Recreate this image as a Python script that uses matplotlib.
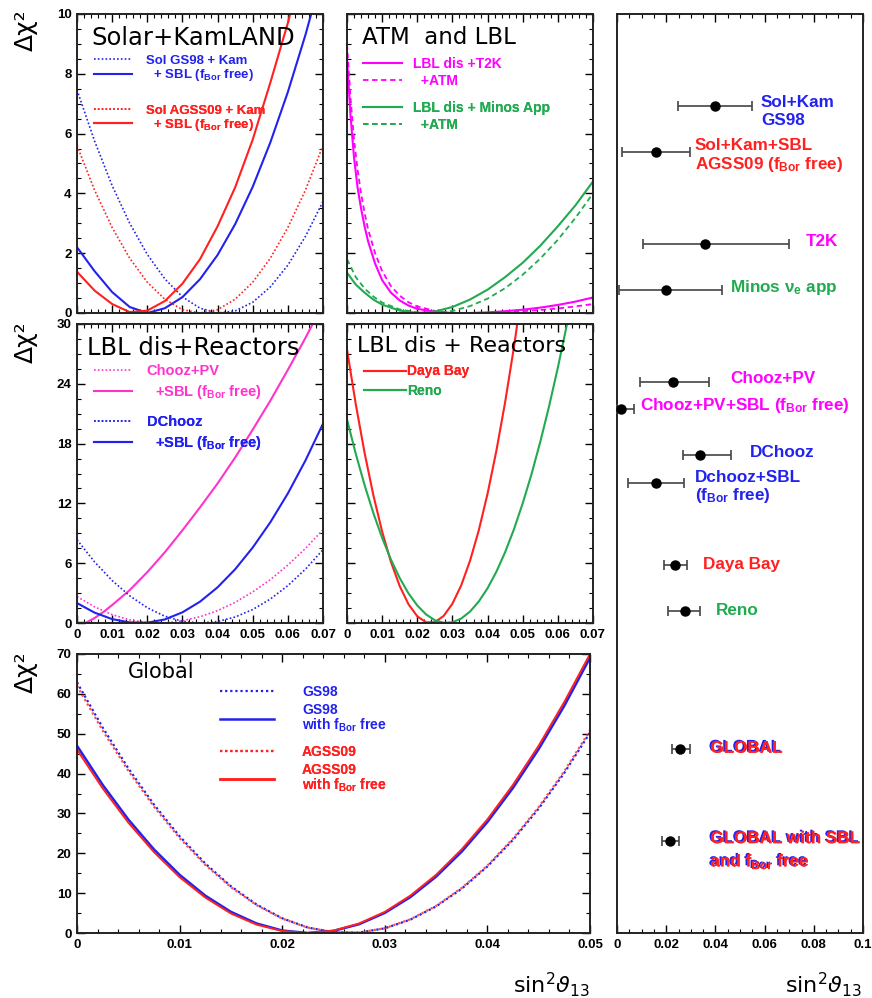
import matplotlib
matplotlib.use('Agg')
import matplotlib.pyplot as plt
from matplotlib.lines import Line2D
from matplotlib.ticker import MultipleLocator, FuncFormatter
import matplotlib.patheffects as pe

# ---------------- data ----------------
# sin^2 theta13 grids
x05 = [0, 0.005, 0.01, 0.015, 0.02, 0.025, 0.03, 0.035, 0.04, 0.045, 0.05, 0.055, 0.06, 0.065, 0.07]
xc = [0, 0.0025, 0.005, 0.0075, 0.01, 0.015, 0.02, 0.025, 0.03, 0.035, 0.04, 0.045, 0.05, 0.055, 0.06, 0.065, 0.07]
xatm = [0, 0.001, 0.002, 0.003, 0.004, 0.005, 0.006, 0.008, 0.01, 0.0125, 0.015, 0.0175, 0.02,
        0.025, 0.03, 0.035, 0.04, 0.045, 0.05, 0.055, 0.06, 0.065, 0.07]
x025 = [0, 0.0025, 0.005, 0.0075, 0.01, 0.0125, 0.015, 0.0175, 0.02, 0.0225, 0.025, 0.0275, 0.03,
        0.0325, 0.035, 0.0375, 0.04, 0.0425, 0.045, 0.0475, 0.05, 0.0525, 0.055, 0.0575, 0.06, 0.0625, 0.065]

# Solar + KamLAND
sk_gs98 = [7.46, 5.75, 4.26, 3.00, 1.96, 1.14, 0.54, 0.16, 0.00, 0.07, 0.36, 0.87, 1.60, 2.56, 3.73]
sk_gs98_sbl = [2.20, 1.40, 0.70, 0.20, 0.00, 0.16, 0.53, 1.13, 1.94, 2.97, 4.22, 5.70, 7.39, 9.30, 11.43]
sk_agss = [5.60, 4.11, 2.86, 1.83, 1.03, 0.46, 0.11, 0.00, 0.11, 0.46, 1.03, 1.83, 2.86, 4.11, 5.60]
sk_agss_sbl = [1.38, 0.75, 0.30, 0.03, 0.08, 0.40, 0.98, 1.80, 2.90, 4.20, 5.80, 7.70, 9.70, 12.0, 14.5]

# ATM and LBL
t2k = [8.5, 6.6, 5.2, 4.2, 3.5, 2.9, 2.4, 1.65, 1.1, 0.68, 0.42, 0.25, 0.14, 0.04, 0.0, 0.0,
       0.02, 0.06, 0.11, 0.18, 0.27, 0.38, 0.52]
t2k_atm = [9.0, 7.2, 5.8, 4.8, 4.0, 3.35, 2.8, 2.0, 1.4, 0.9, 0.58, 0.36, 0.22, 0.07, 0.01, 0.0,
           0.01, 0.03, 0.06, 0.10, 0.15, 0.22, 0.30]
minos = [1.35, 0.95, 0.68, 0.45, 0.28, 0.08, 0.0, 0.05, 0.2, 0.45, 0.78, 1.2, 1.68, 2.25, 2.9, 3.6, 4.4]
minos_atm = [1.8, 1.2, 0.82, 0.55, 0.35, 0.12, 0.02, 0.0, 0.07, 0.23, 0.48, 0.83, 1.28, 1.82, 2.45, 3.18, 4.0]

# LBL dis + Reactors (Chooz / Double Chooz)
chooz = [2.65, 1.62, 0.84, 0.31, 0.04, 0.02, 0.22, 0.63, 1.24, 2.07, 3.11, 4.35, 5.81, 7.48, 9.35]
chooz_sbl = [0.05, 0.02, 0.5, 1.1, 1.8, 3.3, 5.1, 7.1, 9.3, 11.6, 14.0, 16.6, 19.4, 22.3, 25.4, 28.6, 32.0]
dchooz = [8.35, 6.13, 4.26, 2.73, 1.53, 0.68, 0.17, 0.0, 0.15, 0.6, 1.35, 2.4, 3.75, 5.4, 7.35]
dchooz_sbl = [2.0, 1.04, 0.39, 0.06, 0.03, 0.36, 1.07, 2.14, 3.58, 5.39, 7.57, 10.1, 13.0, 16.3, 20.0]

# LBL dis + Reactors (Daya Bay / Reno)
dayabay = [27.44, 21.95, 17.08, 12.82, 9.17, 6.13, 3.70, 1.88, 0.67, 0.07, 0.08, 0.71, 1.94,
           3.78, 6.24, 9.30, 12.98, 17.27, 22.16, 27.67, 33.79]
reno = [20.42, 16.97, 13.84, 11.03, 8.54, 6.37, 4.51, 2.97, 1.76, 0.86, 0.28, 0.02, 0.07, 0.45,
        1.14, 2.16, 3.49, 5.14, 7.11, 9.40, 12.01, 14.93, 18.18, 21.74, 25.62, 29.82, 34.35]

# Global
glob_gs98 = [62.89, 51.55, 41.33, 32.23, 24.27, 17.44, 11.73, 7.15, 3.70, 1.37, 0.18, 0.11, 1.17,
             3.36, 6.67, 11.12, 16.69, 23.39, 31.22, 40.18, 50.26]
glob_gs98_free = [46.98, 37.17, 28.49, 20.97, 14.60, 9.38, 5.31, 2.39, 0.62, 0.00, 0.53, 2.21, 5.04,
                  9.02, 14.14, 20.42, 27.85, 36.43, 46.16, 57.03, 69.06]
glob_agss = [62.0, 50.8, 40.7, 31.7, 23.8, 17.1, 11.5, 7.0, 3.6, 1.35, 0.2, 0.12, 1.2,
             3.45, 6.8, 11.3, 16.9, 23.7, 31.6, 40.6, 50.8]
glob_agss_free = [46.0, 36.3, 27.7, 20.3, 14.0, 8.9, 4.9, 2.1, 0.5, 0.0, 0.6, 2.4, 5.3,
                  9.4, 14.6, 21.0, 28.5, 37.2, 47.0, 58.0, 70.0]

# Summary panel: best fit and 1 sigma ranges
sum_labels = ['Sol+Kam\nGS98', 'Sol+Kam+SBL\nAGSS09 (f$\\mathregular{_{Bor}}$ free)', 'T2K',
              'Minos ν$\\mathregular{_e}$ app', 'Chooz+PV', 'Chooz+PV+SBL (f$\\mathregular{_{Bor}}$ free)',
              'DChooz', 'Dchooz+SBL\n(f$\\mathregular{_{Bor}}$ free)', 'Daya Bay', 'Reno', 'GLOBAL',
              'GLOBAL with SBL\nand f$\\mathregular{_{Bor}}$ free']
sum_best = [0.0398, 0.0158, 0.0358, 0.0199, 0.0228, 0.0015, 0.0337, 0.0158, 0.0236, 0.0277, 0.0256, 0.0215]
sum_low = [0.0248, 0.0020, 0.0107, 0.0010, 0.0094, 0.0000, 0.0267, 0.0046, 0.0191, 0.0208, 0.0222, 0.0183]
sum_high = [0.0549, 0.0297, 0.0700, 0.0427, 0.0374, 0.0070, 0.0463, 0.0273, 0.0284, 0.0337, 0.0297, 0.0252]
sum_row = [10, 15, 25, 30, 40, 43, 48, 51, 60, 65, 80, 90]

# ---------------- style ----------------
BLUE = '#2222ee'
RED = '#ff2020'
MAG = '#ff00ff'
PINK = '#ff33cc'
GREEN = '#22aa50'
BFONT = 'Liberation Sans'

W, H = 872, 998
fig = plt.figure(figsize=(W / 100, H / 100), dpi=100)


def ax_px(x0, y0, x1, y1):
    return fig.add_axes([x0 / W, 1 - y1 / H, (x1 - x0) / W, (y1 - y0) / H])


fmt = FuncFormatter(lambda v, p: '0' if abs(v) < 1e-12 else ('%g' % round(v, 4)))


def style(ax, xlim, ylim, xmaj, xmin, ymaj, ymin, xlab=True, ylab=True):
    ax.set_xlim(*xlim)
    ax.set_ylim(*ylim)
    ax.xaxis.set_major_locator(MultipleLocator(xmaj))
    ax.xaxis.set_minor_locator(MultipleLocator(xmin))
    ax.xaxis.set_major_formatter(fmt)
    if ymaj is not None:
        ax.yaxis.set_major_locator(MultipleLocator(ymaj))
        ax.yaxis.set_minor_locator(MultipleLocator(ymin))
        ax.yaxis.set_major_formatter(fmt)
    ax.tick_params(which='both', direction='in', top=True, right=True,
                   labelbottom=xlab, labelleft=ylab)
    ax.tick_params(which='major', length=6, width=1.0, pad=4)
    ax.tick_params(which='minor', length=3, width=0.8)
    for lab in ax.get_xticklabels() + ax.get_yticklabels():
        lab.set_fontfamily(BFONT)
        lab.set_fontweight('bold')
        lab.set_fontsize(9.5)
    for s in ax.spines.values():
        s.set_linewidth(1.4)
        s.set_color('#222222')


DOT = (0, (1, 1.3))
DASH = (0, (3, 2))
LW = 1.5


def leg(ax, handles, labels, colors, anchor, fs=9.5, hl=2.8, spacing=0.25, pad=1.0, ls=1.2):
    lg = ax.legend(handles, labels, loc='upper left', bbox_to_anchor=anchor, frameon=False,
                   handlelength=hl, handletextpad=pad, labelspacing=spacing,
                   prop={'family': BFONT, 'weight': 'bold', 'size': fs}, borderaxespad=0,
                   borderpad=0)
    for t, c in zip(lg.get_texts(), colors):
        t.set_color(c)
        t.set_linespacing(ls)
    ax.add_artist(lg)
    return lg


def L(color, ls='-', lw=LW):
    return Line2D([], [], color=color, lw=lw, ls=ls)


def title(ax, s, x, y, fs=16):
    ax.text(x, y, s, transform=ax.transAxes, fontsize=fs, family='DejaVu Sans',
            va='top', ha='left', color='black')


FB = ' (f$\\mathregular{_{Bor}}$ free)'

# ---- Panel 1: Solar + KamLAND
a1 = ax_px(77, 14, 323, 313)
a1.plot(x05, sk_gs98, color=BLUE, lw=1.2, ls=DOT)
a1.plot(x05, sk_gs98_sbl, color=BLUE, lw=LW)
a1.plot(x05, sk_agss, color=RED, lw=1.2, ls=DOT)
a1.plot(x05, sk_agss_sbl, color=RED, lw=LW)
style(a1, (0, 0.07), (0, 10), 0.01, 0.002, 2, 0.5, xlab=False)
title(a1, 'Solar+KamLAND', 0.06, 0.96, fs=17.5)
leg(a1, [L(BLUE, DOT, 1.2), L(BLUE)], ['Sol GS98 + Kam', '  + SBL' + FB],
    [BLUE, BLUE], (0.07, 0.864), fs=9.5, spacing=0.02, hl=2.9)
leg(a1, [L(RED, DOT, 1.2), L(RED)], ['Sol AGSS09 + Kam', '  + SBL' + FB],
    [RED, RED], (0.07, 0.697), fs=9.5, spacing=0.02, hl=2.9)

# ---- Panel 2: ATM and LBL
a2 = ax_px(347, 14, 593, 313)
a2.plot(xatm, t2k, color=MAG, lw=LW)
a2.plot(xatm, t2k_atm, color=MAG, lw=1.3, ls=DASH)
a2.plot(xc, minos, color=GREEN, lw=LW)
a2.plot(xc, minos_atm, color=GREEN, lw=1.3, ls=DASH)
style(a2, (0, 0.07), (0, 10), 0.01, 0.002, 2, 0.5, xlab=False, ylab=False)
title(a2, 'ATM  and LBL', 0.06, 0.96, fs=16.5)
leg(a2, [L(MAG), L(MAG, DASH, 1.3)], ['LBL dis +T2K', '  +ATM'],
    [MAG, MAG], (0.065, 0.856), fs=10, spacing=0.22, pad=0.8)
leg(a2, [L(GREEN), L(GREEN, DASH, 1.3)], ['LBL dis + Minos App', '  +ATM'],
    [GREEN, GREEN], (0.065, 0.709), fs=10, spacing=0.22, pad=0.8)

# ---- Panel 3: LBL dis + Reactors (Chooz)
a3 = ax_px(77, 324, 323, 623)
a3.plot(x05, chooz, color=PINK, lw=1.2, ls=DOT)
a3.plot(xc, chooz_sbl, color=PINK, lw=LW)
a3.plot(x05, dchooz, color=BLUE, lw=1.2, ls=DOT)
a3.plot(x05, dchooz_sbl, color=BLUE, lw=LW)
style(a3, (0, 0.07), (0, 30), 0.01, 0.002, 6, 1.5)
title(a3, 'LBL dis+Reactors', 0.04, 0.96, fs=17.5)
leg(a3, [L(PINK, DOT, 1.2), L(PINK)], ['Chooz+PV', '  +SBL' + FB],
    [PINK, PINK], (0.07, 0.865), fs=10.5, spacing=0.3, hl=2.6)
leg(a3, [L(BLUE, DOT, 1.2), L(BLUE)], ['DChooz', '  +SBL' + FB],
    [BLUE, BLUE], (0.07, 0.694), fs=10.5, spacing=0.3, hl=2.6)

# ---- Panel 4: LBL dis + Reactors (Daya Bay / Reno)
a4 = ax_px(347, 324, 593, 623)
a4.plot(x025[:len(dayabay)], dayabay, color=RED, lw=LW)
a4.plot(x025[:len(reno)], reno, color=GREEN, lw=LW)
style(a4, (0, 0.07), (0, 30), 0.01, 0.002, 6, 1.5, ylab=False)
title(a4, 'LBL dis + Reactors', 0.04, 0.96)
leg(a4, [L(RED), L(GREEN)], ['Daya Bay', 'Reno'], [RED, GREEN], (0.07, 0.865),
    hl=3.0, pad=0.1, spacing=0.38, fs=10)

# ---- Panel 5: Global
a5 = ax_px(77, 654, 590, 933)
xg = x025[:len(glob_gs98)]
a5.plot(xg, glob_gs98, color=BLUE, lw=1.6, ls=DOT)
a5.plot(xg, glob_agss, color=RED, lw=1.6, ls=DOT, alpha=0.8)
a5.plot(xg, glob_gs98_free, color=BLUE, lw=1.8)
a5.plot(xg, glob_agss_free, color=RED, lw=1.4)
style(a5, (0, 0.05), (0, 70), 0.01, 0.002, 10, 5)
a5.text(0.1, 0.97, 'Global', transform=a5.transAxes, fontsize=15, family='DejaVu Sans',
        va='top', ha='left')
leg(a5, [L(BLUE, DOT, 1.6), L(BLUE, '-', 1.8)], ['GS98', 'GS98\nwith f$\\mathregular{_{Bor}}$ free'],
    [BLUE, BLUE], (0.279, 0.889), hl=3.9, pad=2.0, spacing=0.3, fs=10, ls=0.95)
leg(a5, [L(RED, DOT, 1.6), L(RED, '-', 1.8)], ['AGSS09', 'AGSS09\nwith f$\\mathregular{_{Bor}}$ free'],
    [RED, RED], (0.279, 0.674), hl=3.9, pad=2.0, spacing=0.3, fs=10, ls=0.95)

# ---- Panel 6: summary
a6 = ax_px(617, 14, 863, 933)
xerr = [[b - l for b, l in zip(sum_best, sum_low)], [h - b for b, h in zip(sum_best, sum_high)]]
a6.errorbar(sum_best, sum_row, xerr=xerr, fmt='o', color='black', ms=6.5, ecolor='#444444',
            elinewidth=1.2, capsize=3.5, capthick=1.2, clip_on=False, zorder=3)
style(a6, (0, 0.1), (100, 0), 0.02, 0.005, None, None)
a6.set_yticks([])
a6.tick_params(axis='y', which='both', left=False, right=False)

lab_pos = [(0.0585, 10.6), (0.0317, 15.5), (0.0768, 24.8), (0.046, 29.8), (0.046, 39.7),
           (0.0093, 42.6), (0.054, 47.7), (0.0317, 51.5), (0.035, 59.9), (0.040, 64.9),
           (0.038, 79.9), (0.038, 91.1)]
lab_lsp = [1.3, 1.15, 1, 1, 1, 1, 1, 1.05, 1, 1, 1, 1.45]
lab_col = [BLUE, RED, MAG, GREEN, MAG, MAG, BLUE, BLUE, RED, GREEN, RED, RED]
for i, (s, (x, y), c) in enumerate(zip(sum_labels, lab_pos, lab_col)):
    t = a6.text(x, y, s, color=c, fontsize=12.3, family=BFONT, fontweight='bold',
                va='center', ha='left', linespacing=lab_lsp[i])
    if i >= 10:
        t.set_path_effects([pe.withSimplePatchShadow(offset=(-1.2, 0.8), shadow_rgbFace=BLUE, alpha=1.0),
                            pe.Normal()])

# ---- axis titles
for yc in (30, 342, 672):
    fig.text(14 / W, 1 - yc / H, 'Δχ²', rotation=90, fontsize=18, family='DejaVu Sans',
             va='center', ha='left')
fig.text(590 / W, 1 - 985 / H, 'sin$^2\\vartheta_{13}$', fontsize=16, ha='right', va='center')
fig.text(862 / W, 1 - 985 / H, 'sin$^2\\vartheta_{13}$', fontsize=16, ha='right', va='center')

fig.savefig('out.png', dpi=100)
